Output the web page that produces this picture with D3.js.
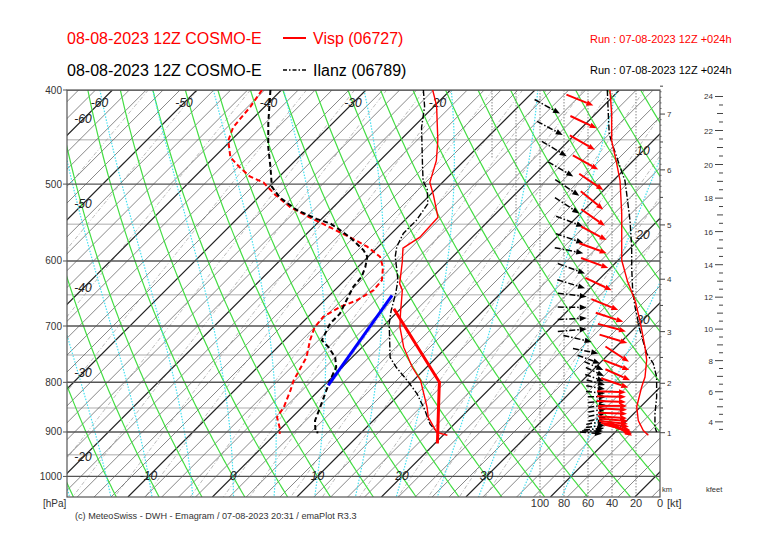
<!DOCTYPE html>
<html><head><meta charset="utf-8">
<script src="https://cdn.jsdelivr.net/npm/d3@7"></script>
<style>body{margin:0;background:#fff;} svg{display:block;font-family:"Liberation Sans",Arial,sans-serif;}</style>
</head><body><svg id="c" width="766" height="541"></svg>
<script>
// ---------------- DATA ----------------
const vispTempP = [400,415,451,473,498,513,541,567,582,602,633,643,679,702,736,772,796,849,869,901,907];
const vispTempT = [-22.1,-19.8,-15.5,-13.3,-11.5,-9.6,-6.4,-6.2,-6.9,-5.3,-3.1,-2.0,0.5,2.1,4.9,8.3,10.8,14.8,16.1,18.9,20.5];
const vispDewP = [400,416,437,451,469,480,491,498,513,528,541,554,567,580,594,609,628,643,659,669,685,702,724,754,796,815,848,869,890,904];
const vispDewT = [-42.3,-41.7,-41.3,-40.3,-38.1,-35.9,-33.5,-31.2,-28.3,-25.1,-21.6,-18.0,-14.5,-11.3,-8.6,-7.0,-5.6,-5.4,-6.2,-7.4,-8.2,-8.0,-7.0,-5.4,-4.2,-3.4,-2.2,-1.8,-0.3,0.5];
const ilanzTempP = [400,416,437,458,480,496,507,524,545,562,580,594,609,628,648,675,696,754,772,796,822,855,883,900];
const ilanzTempT = [-23.2,-21.1,-19.0,-16.6,-14.2,-12.5,-10.9,-9.2,-8.6,-8.6,-7.8,-6.8,-5.4,-3.7,-2.4,-0.9,0.4,4.5,6.4,9.2,12.0,14.9,17.1,18.9];
const ilanzDewP = [400,433,458,480,503,516,532,543,549,558,567,585,594,609,623,638,659,680,696,724,736,754,772,796,848,876,900,901];
const ilanzDewT = [-41.3,-37.6,-34.8,-32.2,-29.7,-27.5,-23.9,-20.6,-18.4,-16.4,-14.5,-11.3,-10.1,-9.1,-8.4,-8.2,-7.4,-6.6,-6.6,-5.6,-4.0,-2.0,-0.7,0.1,2.1,3.1,4.5,4.9];
const parcelDryP = [672,800,812,925];
const parcelDryT = [-0.8,13.3,14.0,20.3];
const parcelMoistP = [806,651];
const parcelMoistT = [0.5,-2.6];

const vispSpdP = [400,423,451,476,496,536,599,630,659,691,736,759,790,809,848,876,897,907];
const vispSpd  = [41.7,40.3,40.3,36.1,33.3,31.9,31.9,27.0,20.8,16.7,12.5,11.1,12.5,15.3,19.4,18.1,13.9,9.7];
const ilanzSpdP = [400,423,444,458,480,496,511,545,580,609,643,669,707,747,765,790,829,862,890,900];
const ilanzSpd  = [43.9,43.1,42.3,38.9,33.3,29.2,27.8,25.0,23.6,23.6,22.8,20.8,16.7,11.1,5.6,2.8,2.8,4.2,4.2,2.8];

// wind arrows: pressure, direction (deg, from), speed (kt)
const vispArrP = [415,438,461,483,507,531,552,571,589,610,643,674,693,709,729,762,777,796,810,819,828,838,846,854,862,871,877,883,889,896,899,902,905,908];
const vispArrDir = [292,295,300,299,304,309,305,298,290,290,295,292,288,285,287,303,291,294,289,272,271,272,270,273,272,274,275,276,278,282,286,290,296,302];
const vispArrSpd = [41.4,38.6,40.0,37.3,33.1,33.1,31.7,30.3,30.3,28.9,26.1,20.6,16.4,14.2,13.1,11.7,11.4,10.8,12.3,14.2,14.2,14.2,13.3,13.3,13.3,13.3,12.5,12.5,11.7,10.8,10.0,10.0,9.2,9.2];
const ilanzArrP = [423,445,468,491,514,536,553,575,589,618,640,653,670,687,705,727,747,765,777,788,798,805,813,821,828,836,844,852,860,869,877,885,892,898,904];
const ilanzArrDir = [299,298,301,300,304,303,291,289,281,290,287,277,271,267,265,283,281,290,294,295,290,285,280,275,270,265,262,260,258,258,260,262,265,270,275];
const ilanzArrSpd = [41.7,39.4,36.1,30.6,25.6,25.6,22.3,22.3,22.3,20.8,20.8,19.4,19.4,19.4,19.4,15.3,9.8,8.3,5.6,5.0,5.0,4.2,4.2,4.2,3.3,3.3,3.3,3.3,3.3,3.3,4.2,4.2,5.0,5.8,6.7];

// height axis (km -> pressure) and ticks
const kmLevels = [1,2,3,4,5,6,7];
const kmPress  = [901.5,801.8,709.4,626.5,550.8,483.4,423.5];
const kmLabels = [1,2,3,4,5,6,7];
const kfeetLabels = [4,6,8,10,12,14,16,18,20,22,24];

const pressureLabels = [400,500,600,700,800,900,1000];
const isoLabelsTop = [-60,-50,-40,-30,-20];
const isoLabelsLeft = [-60,-50,-40,-30,-20];
const isoLabelsBottom = [-10,0,10,20,30];
const isoLabelsRight = [10,20,30];
const windTicks = [100,80,60,40,20,0];
const windUpperTicks = [120,140];      // partial grid lines in upper part
const windUpperBottomP = [548,470];

// ---------------- CHART ----------------
const svg = d3.select('#c');
const X0=67, X1=660, Y0=90, Y1=497;
const y = d3.scaleLog().domain([400,1050]).range([Y0,Y1]);
const tx = d3.scaleLinear().domain([0,10]).range([233,317.5]);
const y1000 = y(1000);
const sx = (T,p) => tx(T) + (y1000 - y(p));
const ws = d3.scaleLinear().domain([0,100]).range([660,540]);

svg.append('defs').append('clipPath').attr('id','clip')
  .append('rect').attr('x',X0).attr('y',Y0).attr('width',X1-X0).attr('height',Y1-Y0);
const grid = svg.append('g').attr('clip-path','url(#clip)');
const line = d3.line().x(d=>d[0]).y(d=>d[1]);
const pSamples = d3.range(400,1051,5);

// thin isobars (50s)
[450,550,650,750,850,950].forEach(p=>{
  grid.append('line').attr('x1',X0).attr('x2',X1).attr('y1',y(p)).attr('y2',y(p))
    .attr('stroke','#c8c8c8').attr('stroke-width',1.5);
});
// mixing ratio lines
const es = T => 6.112*Math.exp(17.67*T/(T+243.5));
const tFromE = e => { const l=Math.log(e/6.112); return 243.5*l/(17.67-l); };
const mixVals = [0.05,0.1,0.2,0.4,0.7,1,1.5,2,3,4,5,7,9,12,16,20,25,30];
mixVals.forEach(w=>{
  const pts = pSamples.map(p=>{ const e = (w/1000)*p/(0.622+w/1000); return [sx(tFromE(e),p), y(p)]; });
  grid.append('path').attr('d',line(pts)).attr('fill','none').attr('stroke','#999')
    .attr('stroke-width',0.7).attr('stroke-dasharray','4,2,1,2');
});
// isotherms
d3.range(-150,62,2).forEach(T=>{
  const dec = T%10===0;
  grid.append('line').attr('x1',sx(T,1050)).attr('y1',y(1050)).attr('x2',sx(T,400)).attr('y2',y(400))
    .attr('stroke',dec?'#222':'#555').attr('stroke-width',dec?1.2:0.7);
});
// dry adiabats
d3.range(-30,90,5).forEach(th=>{
  const pts = pSamples.map(p=>[sx((th+273.15)*Math.pow(p/1000,0.2857)-273.15,p), y(p)]);
  grid.append('path').attr('d',line(pts)).attr('fill','none').attr('stroke','#44dd44').attr('stroke-width',1.2);
});
// pseudo adiabats
function moist(thw){
  const Rd=287.04, Lv=2.501e6, Cp=1005.7, eps=0.622;
  const f=(p,T)=>{ const Tc=T-273.15; const e=es(Tc); const rs=eps*e/(p-e);
    return (Rd*T+Lv*rs)/(Cp+Lv*Lv*rs*eps/(Rd*T*T))/p; };
  let T=thw+273.15;
  const step=-2;
  const up=[]; for(let p=1000;p>=400;p+=step){ up.push([p,T]); const k1=f(p,T),k2=f(p+step/2,T+k1*step/2),k3=f(p+step/2,T+k2*step/2),k4=f(p+step,T+k3*step); T+= step*(k1+2*k2+2*k3+k4)/6; }
  T=thw+273.15; const dn=[];
  for(let p=1000;p<=1050;p+=2){ dn.push([p,T]); const s=2; const k1=f(p,T),k2=f(p+s/2,T+k1*s/2),k3=f(p+s/2,T+k2*s/2),k4=f(p+s,T+k3*s); T+= s*(k1+2*k2+2*k3+k4)/6; }
  return up.reverse().concat(dn.slice(1)).map(d=>[sx(d[1]-273.15,d[0]), y(d[0])]);
}
d3.range(-20,45,5).forEach(thw=>{
  grid.append('path').attr('d',line(moist(thw))).attr('fill','none').attr('stroke','#44e0f0')
    .attr('stroke-width',1.2).attr('stroke-dasharray','1.5,1.5');
});
// wind column grid
windTicks.filter(v=>v>0).forEach(v=>{
  grid.append('line').attr('x1',ws(v)).attr('x2',ws(v)).attr('y1',Y0).attr('y2',Y1)
    .attr('stroke','#666').attr('stroke-width',0.8).attr('stroke-dasharray','1.5,1.5');
});
windUpperTicks.forEach((v,i)=>{
  grid.append('line').attr('x1',ws(v)).attr('x2',ws(v)).attr('y1',Y0).attr('y2',y(windUpperBottomP[i]))
    .attr('stroke','#666').attr('stroke-width',0.8).attr('stroke-dasharray','1.5,1.5');
});
// major isobars
pressureLabels.forEach(p=>{
  grid.append('line').attr('x1',X0).attr('x2',X1).attr('y1',y(p)).attr('y2',y(p))
    .attr('stroke','#555').attr('stroke-width',1.4);
});
// frame
svg.append('rect').attr('x',X0).attr('y',Y0).attr('width',X1-X0).attr('height',Y1-Y0)
  .attr('fill','none').attr('stroke','#555').attr('stroke-width',1.2);

// isotherm labels
const lab = svg.append('g').attr('font-size',12).attr('font-style','italic').attr('fill','#222').attr('text-anchor','middle');
const yAtTx = (T,x) => y1000 - (x - tx(T));
isoLabelsTop.forEach(T=>{ const yy=103; lab.append('text').attr('x',tx(T)+(y1000-yy)).attr('y',yy+4).text(T); });
isoLabelsLeft.forEach(T=>{ const xx=83; lab.append('text').attr('x',xx).attr('y',yAtTx(T,xx)+4).text(T); });
isoLabelsBottom.forEach(T=>{ lab.append('text').attr('x',tx(T)).attr('y',y1000+4).text(T); });
isoLabelsRight.forEach(T=>{ const xx=643; lab.append('text').attr('x',xx).attr('y',yAtTx(T,xx)+4).text(T); });

// ---- data lines ----
const data = svg.append('g').attr('clip-path','url(#clip)');
const skewLine = (P,T) => line(P.map((p,i)=>[sx(T[i],p), y(p)]));
data.append('path').attr('d',skewLine(vispDewP,vispDewT)).attr('fill','none').attr('stroke','#ff0000').attr('stroke-width',2).attr('stroke-dasharray','5,3');
data.append('path').attr('d',skewLine(ilanzDewP,ilanzDewT)).attr('fill','none').attr('stroke','#000').attr('stroke-width',2).attr('stroke-dasharray','5,3');
data.append('path').attr('d',skewLine(ilanzTempP,ilanzTempT)).attr('fill','none').attr('stroke','#000').attr('stroke-width',1.4).attr('stroke-dasharray','6,2,1.5,2');
data.append('path').attr('d',skewLine(vispTempP,vispTempT)).attr('fill','none').attr('stroke','#ff0000').attr('stroke-width',1.4);
data.append('path').attr('d',skewLine(parcelMoistP,parcelMoistT)).attr('fill','none').attr('stroke','#0000ff').attr('stroke-width',3);
data.append('path').attr('d',skewLine(parcelDryP,parcelDryT)).attr('fill','none').attr('stroke','#ff0000').attr('stroke-width',3);

// wind speed profiles
const spdLine = (P,S) => line(P.map((p,i)=>[ws(S[i]), y(p)]));
data.append('path').attr('d',spdLine(ilanzSpdP,ilanzSpd)).attr('fill','none').attr('stroke','#000').attr('stroke-width',1.4).attr('stroke-dasharray','6,2,1.5,2');
data.append('path').attr('d',spdLine(vispSpdP,vispSpd)).attr('fill','none').attr('stroke','#ff0000').attr('stroke-width',1.4);

// wind arrows
function arrows(P,D,S,color,offset,dash,w){
  const g = data.append('g');
  P.forEach((p,i)=>{
    const hx = ws(S[i]) - offset, hy = y(p);
    const L = Math.min(29, 14 + 1.2*S[i]);
    const b = (D[i]-180)*Math.PI/180, ux=Math.sin(b), uy=-Math.cos(b);
    const hl=7, hw=2.8;
    const bx=hx-hl*ux, by=hy-hl*uy;
    g.append('line').attr('x1',hx-L*ux).attr('y1',hy-L*uy).attr('x2',bx).attr('y2',by)
      .attr('stroke',color).attr('stroke-width',w).attr('stroke-dasharray',dash);
    g.append('path').attr('d',`M${hx},${hy}L${bx-hw*uy},${by+hw*ux}L${bx+hw*uy},${by-hw*ux}Z`).attr('fill',color);
  });
}
arrows(ilanzArrP,ilanzArrDir,ilanzArrSpd,'#000',50,'6,2,1.5,2',1.5);
arrows(vispArrP,vispArrDir,vispArrSpd,'#ff0000',17,null,2);

// ---- axes text ----
const axg = svg.append('g').attr('font-size',10).attr('fill','#333');
pressureLabels.forEach(p=>{
  axg.append('text').attr('x',62).attr('y',y(p)+3.5).attr('text-anchor','end').text(p);
  svg.append('line').attr('x1',63).attr('x2',X0).attr('y1',y(p)).attr('y2',y(p)).attr('stroke','#555');
});
axg.append('text').attr('x',43).attr('y',507).text('[hPa]');
windTicks.forEach(v=>{
  axg.append('text').attr('x',ws(v)).attr('y',507).attr('text-anchor','middle').attr('font-size',11).text(v);
});
axg.append('text').attr('x',667).attr('y',507).attr('font-size',11).text('[kt]');
axg.append('text').attr('x',662).attr('y',492).attr('font-size',7.5).text('km');
axg.append('text').attr('x',706).attr('y',492).attr('font-size',7.5).text('kfeet');

// height axes
const hY = d3.scaleLinear().domain(kmLevels).range(kmPress.map(p=>y(p)));
d3.range(10,76,1).forEach(hh=>{
  const h = hh/10;
  const len = hh%10===0 ? 5 : (hh%5===0 ? 3 : 1.6);
  svg.append('line').attr('x1',X1).attr('x2',X1+len).attr('y1',hY(h)).attr('y2',hY(h)).attr('stroke','#444').attr('stroke-width',hh%5===0?1:0.7);
});
kmLabels.forEach(h=>{
  axg.append('text').attr('x',667).attr('y',hY(h)+3).attr('font-size',8).text(h);
});
d3.range(3.5,24.01,0.5).forEach(k=>{
  const h = k*0.3048;
  const lbl = k%2===0, integ = Number.isInteger(k);
  svg.append('line').attr('x1',lbl?715:(integ?717:719)).attr('x2',723).attr('y1',hY(h)).attr('y2',hY(h)).attr('stroke','#444').attr('stroke-width',1);
});
kfeetLabels.forEach(k=>{
  axg.append('text').attr('x',713).attr('y',hY(k*0.3048)+3).attr('font-size',8).attr('text-anchor','end').text(k);
});

// footer
svg.append('text').attr('x',75).attr('y',519).attr('font-size',9.1).attr('fill','#333')
  .text('(c) MeteoSwiss - DWH - Emagram / 07-08-2023 20:31 / emaPlot R3.3');

// titles
svg.append('text').attr('x',67).attr('y',44).attr('font-size',16).attr('fill','#ff0000').text('08-08-2023 12Z COSMO-E');
svg.append('line').attr('x1',283).attr('x2',306).attr('y1',38).attr('y2',38).attr('stroke','#ff0000').attr('stroke-width',2);
svg.append('text').attr('x',313).attr('y',44).attr('font-size',16).attr('fill','#ff0000').text('Visp (06727)');
svg.append('text').attr('x',590).attr('y',43).attr('font-size',11).attr('fill','#ff0000').text('Run : 07-08-2023 12Z +024h');
svg.append('text').attr('x',67).attr('y',76).attr('font-size',16).attr('fill','#000').text('08-08-2023 12Z COSMO-E');
svg.append('line').attr('x1',283).attr('x2',306).attr('y1',70).attr('y2',70).attr('stroke','#000').attr('stroke-width',1.5).attr('stroke-dasharray','4,2,1.5,2');
svg.append('text').attr('x',313).attr('y',76).attr('font-size',16).attr('fill','#000').text('Ilanz (06789)');
svg.append('text').attr('x',590).attr('y',74).attr('font-size',11).attr('fill','#000').text('Run : 07-08-2023 12Z +024h');
</script></body></html>
